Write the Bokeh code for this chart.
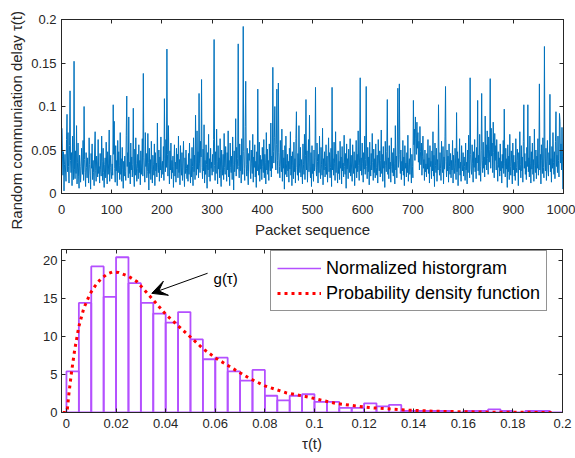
import numpy as np
from bokeh.plotting import figure
from bokeh.layouts import column
from bokeh.models import (LinearAxis, FixedTicker, NumeralTickFormatter, Range1d, Legend,
                          LegendItem, Arrow, VeeHead, Label, Title, CustomJSTickFormatter)
from bokeh.embed import file_html
from bokeh.resources import INLINE

# ---------------- data ----------------
# random communication delay per packet, in thousandths of a second
delay_milli = [
    75, 42, 21, 48, 3, 33, 45, 27, 14, 62, 91, 25, 70, 31, 12, 55, 118, 38, 24, 47, 9, 66, 29, 16, 152,
    28, 17, 49, 23, 78, 11, 36, 58, 20, 6, 44, 31, 13, 26, 52, 34, 22, 61, 15, 100, 39, 24, 8, 47, 30,
    18, 41, 27, 12, 64, 33, 21, 5, 46, 29, 57, 16, 38, 24, 9, 50, 71, 26, 14, 43, 35, 19, 62, 23, 31,
    12, 46, 28, 20, 66, 37, 15, 52, 24, 7, 33, 41, 18, 59, 27, 11, 48, 22, 35, 73, 14, 30, 44, 25, 17,
    34, 21, 102, 45, 83, 29, 13, 55, 26, 38, 9, 61, 24, 48, 32, 16, 70, 22, 40, 14, 53, 28, 6, 37, 20,
    43, 25, 15, 67, 112, 31, 47, 18, 88, 23, 36, 11, 58, 27, 42, 19, 33, 98, 26, 8, 51, 21, 64, 34, 14,
    29, 45, 17, 56, 24, 38, 10, 49, 22, 35, 63, 20, 138, 41, 27, 13, 70, 31, 46, 18, 25, 69, 36, 4, 52,
    23, 39, 16, 60, 28, 12, 44, 33, 21, 57, 9, 47, 26, 35, 19, 81, 30, 24, 50, 14, 42, 27, 65, 18, 32,
    37, 22, 54, 15, 109, 40, 25, 62, 30, 166, 45, 20, 78, 34, 11, 49, 27, 58, 17, 38, 24, 43, 7, 31, 56,
    20, 36, 13, 52, 28, 45, 18, 66, 24, 39, 10, 55, 30, 21, 47, 15, 34, 60, 26, 8, 41, 23, 50, 29, 17,
    33, 14, 46, 22, 58, 27, 12, 40, 19, 53, 31, 9, 64, 25, 44, 16, 90, 36, 21, 72, 28, 48, 18, 115, 35,
    24, 60, 42, 131, 30, 17, 51, 26, 79, 12, 38, 22, 56, 33, 6, 47, 27, 68, 19, 40, 14, 52, 29, 36, 21,
    45, 25, 62, 177, 32, 15, 48, 23, 74, 37, 11, 55, 28, 41, 18, 63, 26, 8, 50, 33, 21, 45, 16, 69, 30,
    22, 54, 35, 14, 47, 27, 72, 19, 38, 9, 58, 30, 24, 43, 16, 65, 33, 4, 49, 25, 36, 86, 20, 53, 28,
    40, 172, 31, 18, 57, 26, 44, 12, 63, 35, 22, 192, 48, 29, 15, 77, 129, 33, 20, 52, 25, 10, 46, 38, 61,
    27, 17, 50, 34, 23, 68, 13, 42, 30, 56, 19, 37, 7, 48, 26, 120, 35, 21, 59, 14, 44, 28, 39, 16, 53,
    31, 24, 62, 18, 45, 36, 11, 70, 27, 51, 22, 38, 15, 57, 33, 26, 81, 19, 43, 29, 145, 48, 35, 64, 100,
    42, 27, 56, 120, 38, 23, 127, 47, 31, 18, 61, 35, 25, 74, 14, 50, 29, 41, 5, 55, 22, 66, 34, 19, 45,
    26, 37, 13, 52, 28, 71, 21, 43, 9, 48, 32, 17, 59, 25, 40, 12, 63, 94, 30, 21, 46, 15, 78, 35, 24,
    53, 19, 39, 28, 11, 57, 33, 22, 68, 16, 44, 108, 27, 49, 13, 36, 62, 25, 90, 31, 18, 47, 8, 55, 23,
    34, 14, 50, 26, 41, 122, 30, 20, 58, 37, 12, 45, 24, 66, 29, 17, 53, 33, 21, 75, 10, 40, 27, 48, 19,
    31, 56, 22, 43, 13, 36, 64, 25, 47, 18, 30, 52, 8, 122, 27, 40, 21, 59, 34, 15, 71, 24, 45, 28, 12,
    49, 23, 37, 16, 60, 29, 42, 11, 54, 26, 35, 19, 67, 31, 22, 46, 6, 57, 28, 40, 17, 51, 33, 24, 63,
    20, 44, 27, 14, 56, 35, 23, 48, 9, 38, 29, 61, 18, 45, 25, 72, 32, 15, 50, 133, 26, 41, 21, 58, 34,
    13, 47, 28, 66, 22, 39, 123, 31, 17, 53, 25, 42, 10, 59, 33, 20, 46, 27, 69, 36, 15, 51, 24, 40, 18,
    57, 30, 21, 44, 12, 62, 35, 26, 49, 19, 38, 73, 23, 45, 14, 54, 29, 37, 7, 60, 32, 25, 48, 108, 22,
    41, 17, 55, 28, 36, 13, 64, 31, 24, 47, 20, 52, 34, 11, 78, 27, 43, 18, 58, 121, 30, 39, 126, 45, 23,
    50, 16, 37, 26, 61, 21, 42, 9, 55, 29, 35, 19, 47, 24, 67, 14, 33, 40, 22, 52, 28, 12, 45, 31, 18,
    107, 56, 74, 38, 88, 63, 45, 82, 52, 70, 36, 60, 27, 77, 48, 33, 58, 21, 43, 66, 29, 39, 15, 50, 25,
    34, 19, 46, 28, 62, 23, 41, 12, 55, 31, 37, 17, 49, 26, 71, 20, 44, 8, 58, 32, 24, 52, 14, 39, 27,
    102, 36, 21, 47, 29, 15, 60, 33, 24, 54, 11, 42, 28, 65, 123, 37, 19, 50, 26, 43, 13, 57, 31, 22, 46,
    18, 38, 27, 61, 12, 44, 30, 23, 52, 35, 16, 93, 25, 48, 9, 40, 29, 63, 21, 36, 14, 55, 33, 26, 47,
    20, 42, 31, 15, 58, 27, 36, 11, 50, 24, 67, 39, 18, 133, 45, 28, 22, 56, 34, 13, 48, 30, 62, 25, 41,
    17, 53, 35, 107, 26, 44, 21, 68, 31, 14, 49, 115, 38, 24, 59, 29, 42, 19, 89, 33, 56, 27, 72, 40, 22,
    65, 36, 51, 132, 29, 75, 43, 58, 24, 82, 47, 18, 69, 38, 55, 27, 62, 33, 14, 48, 30, 41, 20, 57, 26,
    37, 12, 45, 29, 61, 23, 97, 34, 19, 52, 28, 40, 7, 56, 25, 43, 16, 68, 31, 21, 49, 35, 11, 58, 27,
    44, 20, 36, 15, 63, 30, 24, 51, 38, 9, 47, 27, 71, 33, 18, 55, 26, 42, 13, 60, 102, 29, 46, 22, 37,
    16, 53, 31, 102, 25, 41, 19, 66, 35, 12, 48, 28, 58, 22, 39, 14, 74, 32, 24, 50, 17, 43, 29, 63, 21,
    34, 126, 27, 45, 11, 56, 38, 23, 64, 30, 18, 169, 42, 26, 52, 15, 37, 61, 28, 20, 47, 33, 114, 25, 40,
    13, 54, 29, 70, 36, 22, 48, 17, 60, 94, 31, 44, 24, 66, 38, 19, 92, 83, 35, 57, 27, 76, 42, 5, 61,
]
packet_seq = list(range(1, len(delay_milli) + 1))

# normalized histogram (pdf normalization), bin width 0.005
hist_edges = [round(0.005 * i, 3) for i in range(41)]
hist_density = [
    5.4, 14.4, 19.2, 15.2, 20.4, 17.0, 14.4, 13.0, 11.8, 13.2,
    9.6, 7.0, 7.2, 5.4, 4.2, 5.6, 2.2, 1.6, 2.2, 2.4,
    1.4, 1.4, 0.6, 0.6, 1.2, 0.8, 1.0, 0.2, 0.2, 0.2,
    0.2, 0.0, 0.2, 0.2, 0.4, 0.2, 0.0, 0.2, 0.2, 0.0,
]

# probability density function g(tau)
pdf_tau = [-0.0015, 0.0, 0.0004, 0.001, 0.002, 0.0033, 0.005, 0.007, 0.0095, 0.0115,
           0.0137, 0.0164, 0.0184, 0.021, 0.025, 0.0284, 0.0344, 0.040, 0.0457, 0.0504,
           0.055, 0.0604, 0.067, 0.0737, 0.080, 0.0885, 0.0964, 0.1085, 0.122, 0.135,
           0.148, 0.169, 0.196]
pdf_val = [0.0, 0.0, 0.57, 2.5, 5.2, 8.2, 11.3, 13.7, 15.6, 16.6,
           17.5, 18.2, 18.45, 18.4, 17.9, 17.2, 15.0, 12.9, 11.2, 9.8,
           8.4, 7.1, 5.8, 4.5, 3.5, 2.6, 2.1, 1.2, 0.65, 0.35,
           0.17, 0.05, 0.0]

top_xticks = [0, 100, 200, 300, 400, 500, 600, 700, 800, 900, 1000]
top_yticks = [0, 0.05, 0.1, 0.15, 0.2]
bot_xticks = [0, 0.02, 0.04, 0.06, 0.08, 0.1, 0.12, 0.14, 0.16, 0.18, 0.2]
bot_yticks = [0, 5, 10, 15, 20]

# ---------------- style ----------------
FONT = "Liberation Sans"
AX = "#262626"
BLUE = "#0072BD"
PURPLE = "#B450FF"
RED = "#FF0000"
TICK_FS = "13px"
LABEL_FS = "15px"


def style_axis(ax, show_labels=True):
    ax.axis_line_color = AX
    ax.axis_line_width = 1
    ax.major_tick_line_color = AX
    ax.major_tick_in = 4
    ax.major_tick_out = 0
    ax.minor_tick_line_color = None
    ax.major_label_text_font = FONT
    ax.major_label_text_color = AX
    ax.major_label_text_font_size = TICK_FS
    ax.axis_label_text_font = FONT
    ax.axis_label_text_font_size = LABEL_FS
    ax.axis_label_text_font_style = "normal"
    ax.axis_label_text_color = AX
    if not show_labels:
        ax.formatter = CustomJSTickFormatter(code="return ''")
        ax.major_label_text_font_size = "1px"
        ax.major_label_standoff = 0


# ---------------- top: delay sequence ----------------
p1 = figure(frame_width=502, frame_height=174, output_backend="svg", toolbar_location=None,
            x_range=Range1d(0, 1000), y_range=Range1d(0, 0.2),
            min_border_left=60, min_border_right=13, min_border_top=19, min_border_bottom=47)
p1.background_fill_color = "white"
p1.border_fill_color = "white"
p1.grid.visible = False
p1.outline_line_color = AX
p1.line([p / 1.0 for p in packet_seq], [d / 1000.0 for d in delay_milli],
        line_color=BLUE, line_width=1)

p1.xaxis.ticker = FixedTicker(ticks=top_xticks)
p1.yaxis.ticker = FixedTicker(ticks=top_yticks)
p1.yaxis.formatter = NumeralTickFormatter(format="0.[00]")
p1.xaxis.axis_label = "Packet sequence"
for ax in p1.xaxis + p1.yaxis:
    style_axis(ax)
p1.xaxis.major_label_standoff = 11
p1.xaxis.axis_label_standoff = 4
p1.yaxis.major_label_standoff = 5

ax_top = LinearAxis(ticker=FixedTicker(ticks=top_xticks))
style_axis(ax_top, show_labels=False)
p1.add_layout(ax_top, "above")
ax_right = LinearAxis(ticker=FixedTicker(ticks=top_yticks))
style_axis(ax_right, show_labels=False)
p1.add_layout(ax_right, "right")

ytitle = Title(text="Random communiation delay \u03c4(t)", align="left",
               text_font=FONT, text_font_size=LABEL_FS, text_font_style="normal",
               text_color=AX, standoff=8, offset=-36)
p1.add_layout(ytitle, "left")

# ---------------- bottom: histogram + pdf ----------------
p2 = figure(frame_width=501, frame_height=163, output_backend="svg", toolbar_location=None,
            x_range=Range1d(-0.002, 0.2), y_range=Range1d(0, 21.42),
            min_border_left=61, min_border_right=13, min_border_top=9, min_border_bottom=46)
p2.background_fill_color = "white"
p2.border_fill_color = "white"
p2.grid.visible = False
p2.outline_line_color = AX

hist_r = p2.quad(left=hist_edges[:-1], right=hist_edges[1:], bottom=0, top=hist_density,
                 fill_color=None, line_color=PURPLE, line_width=1.8)
hist_leg = p2.line([float("nan")], [float("nan")], line_color=PURPLE, line_width=1.3)
pdf_r = p2.line(pdf_tau, pdf_val, line_color=RED, line_width=3, line_dash="3 4")

p2.xaxis.ticker = FixedTicker(ticks=bot_xticks)
p2.yaxis.ticker = FixedTicker(ticks=bot_yticks)
p2.xaxis.formatter = NumeralTickFormatter(format="0.[00]")
p2.xaxis.axis_label = "\u03c4(t)"
for ax in p2.xaxis + p2.yaxis:
    style_axis(ax)
p2.xaxis.major_label_standoff = 6
p2.xaxis.axis_label_standoff = 4
p2.yaxis.major_label_standoff = 4

ax_top2 = LinearAxis(ticker=FixedTicker(ticks=bot_xticks))
style_axis(ax_top2, show_labels=False)
p2.add_layout(ax_top2, "above")
ax_right2 = LinearAxis(ticker=FixedTicker(ticks=bot_yticks))
style_axis(ax_right2, show_labels=False)
p2.add_layout(ax_right2, "right")

legend = Legend(items=[LegendItem(label="Normalized historgram", renderers=[hist_leg]),
                       LegendItem(label="Probability density function", renderers=[pdf_r])],
                location=(209, 101))
legend.label_text_font = FONT
legend.label_text_font_size = "18px"
legend.label_text_color = "black"
legend.glyph_width = 44
legend.glyph_height = 22
legend.label_height = 22
legend.label_standoff = 5
legend.spacing = 3
legend.padding = 6
legend.margin = 0
legend.border_line_color = AX
legend.border_line_width = 1
legend.background_fill_color = "white"
legend.background_fill_alpha = 1
p2.add_layout(legend, "center")

p2.add_layout(Arrow(end=VeeHead(size=15, fill_color="black", line_color="black"),
                    x_start=0.0569, y_start=18.3, x_end=0.0344, y_end=15.66,
                    line_color="black", line_width=1))
p2.add_layout(Label(x=0.0593, y=17.55, text="g(\u03c4)", text_font=FONT,
                    text_font_size="15px", text_baseline="middle", text_align="left",
                    text_color="black"))

layout = column(p1, p2, spacing=0)
open("out.html", "w").write(file_html(layout, INLINE))
